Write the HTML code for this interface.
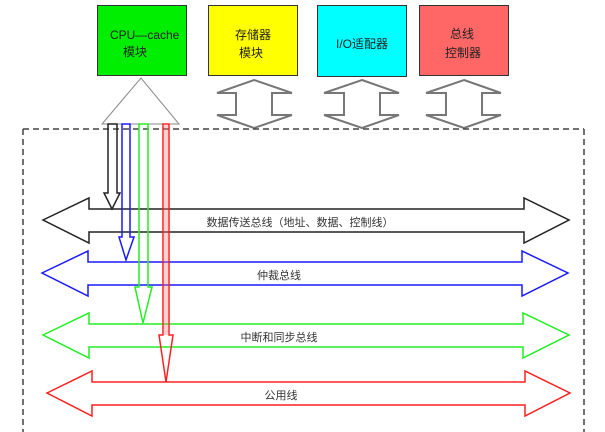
<!DOCTYPE html>
<html><head><meta charset="utf-8"><style>
html,body{margin:0;padding:0;background:#fff;}
svg{display:block;}
text{font-family:"Liberation Sans","Noto Sans CJK SC",sans-serif;}
</style></head><body>
<svg width="605" height="432" viewBox="0 0 605 432" xmlns="http://www.w3.org/2000/svg">
<rect x="0" y="0" width="605" height="432" fill="#fff"/>
<!-- boxes -->
<rect x="97.5" y="5.5" width="89" height="70" fill="#00ee00" stroke="#333" stroke-width="1"/>
<rect x="208.5" y="5.5" width="89" height="70" fill="#ffff00" stroke="#333" stroke-width="1"/>
<rect x="317.5" y="5.5" width="89" height="71" fill="#00ffff" stroke="#333" stroke-width="1"/>
<rect x="419.5" y="5.5" width="89" height="70" fill="#ff6666" stroke="#333" stroke-width="1"/>
<g font-size="12" fill="#222">
<text x="110" y="39">CPU—cache</text>
<text x="123" y="56">模块</text>
<text x="235" y="39">存储器</text>
<text x="239" y="57">模块</text>
<text x="336" y="48">I/O适配器</text>
<text x="450" y="38">总线</text>
<text x="445" y="57">控制器</text>
</g>
<!-- triangle -->
<polygon points="141,78 102,124 179,124" fill="#fff" stroke="#888" stroke-width="1"/>
<!-- double vertical arrows -->
<g fill="#fff" stroke="#777" stroke-width="2">
<polygon points="254,80 292,93 272,93 272,115 292,115 254,128 217,115 236,115 236,93 217,93"/>
<polygon points="362,80 399,93 380,93 380,115 399,115 362,128 324,115 344,115 344,93 324,93"/>
<polygon points="464,80 501,93 482,93 482,115 501,115 464,128 426,115 446,115 446,93 426,93"/>
</g>
<!-- dashed container -->
<path d="M23,129 H584 M23,129 V432 M584,129 V432" fill="none" stroke="#444" stroke-width="1.5" stroke-dasharray="6,4"/>
<!-- horizontal arrows -->
<g fill="none" stroke-width="1.5">
<polygon stroke="#222" points="43,220 89,198 89,209 524,209 524,198 569,220 524,243 524,232 89,232 89,243"/>
<polygon stroke="#1a1aff" points="42,273 88,251 88,262 522,262 522,251 568,273 522,296 522,285 88,285 88,296"/>
<polygon stroke="#22ee22" points="43,335 89,313 89,324 523,324 523,313 569,335 523,358 523,347 89,347 89,358"/>
<polygon stroke="#ff2020" points="47,393 92,371 92,382 525,382 525,371 570,393 525,416 525,405 92,405 92,416"/>
</g>
<!-- vertical arrows -->
<g fill="none" stroke-width="1.5">
<polygon stroke="#222" points="108,124 117,124 117,193 120,193 112,209 104,193 108,193"/>
<polygon stroke="#1a1aff" points="122,124 130,124 130,237 134,237 126,260 119,237 122,237"/>
<polygon stroke="#22ee22" points="139,124 148,124 148,287 152,287 143,323 135,287 139,287"/>
<polygon stroke="#ff2020" points="163,124 169,124 169,335 173,335 166,382 159,335 163,335"/>
<path d="M165,124 V335 M167,124 V335" stroke="#ff8080" stroke-width="0.7"/>
</g>
<g font-size="11" fill="#333" text-anchor="middle">
<text x="300" y="226">数据传送总线（地址、数据、控制线）</text>
<text x="279" y="279">仲裁总线</text>
<text x="279" y="341">中断和同步总线</text>
<text x="281" y="399">公用线</text>
</g>
</svg>
</body></html>
